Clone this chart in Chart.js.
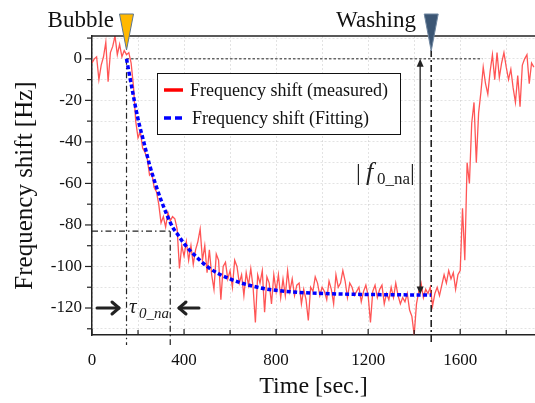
<!DOCTYPE html>
<html>
<head>
<meta charset="utf-8">
<script src="https://cdn.jsdelivr.net/npm/chart.js@4.4.0/dist/chart.umd.min.js"></script>
<style>
  body { margin: 0; background: #fff; }
  canvas { display: block; }
</style>
</head>
<body>
<canvas id="chart" width="535" height="403"></canvas>
<script>
// measured frequency shift, sampled every 10 s
const times = [
  0, 10, 20, 30, 40, 50, 60, 70, 80, 90,
  100, 110, 120, 130, 140, 150, 160, 170, 180, 190,
  200, 210, 220, 230, 240, 250, 260, 270, 280, 290,
  300, 310, 320, 330, 340, 350, 360, 370, 380, 390,
  400, 410, 420, 430, 440, 450, 460, 470, 480, 490,
  500, 510, 520, 530, 540, 550, 560, 570, 580, 590,
  600, 610, 620, 630, 640, 650, 660, 670, 680, 690,
  700, 710, 720, 730, 740, 750, 760, 770, 780, 790,
  800, 810, 820, 830, 840, 850, 860, 870, 880, 890,
  900, 910, 920, 930, 940, 950, 960, 970, 980, 990,
  1000, 1010, 1020, 1030, 1040, 1050, 1060, 1070, 1080, 1090,
  1100, 1110, 1120, 1130, 1140, 1150, 1160, 1170, 1180, 1190,
  1200, 1210, 1220, 1230, 1240, 1250, 1260, 1270, 1280, 1290,
  1300, 1310, 1320, 1330, 1340, 1350, 1360, 1370, 1380, 1390,
  1400, 1410, 1420, 1430, 1440, 1450, 1460, 1470, 1480, 1490,
  1500, 1510, 1520, 1530, 1540, 1550, 1560, 1570, 1580, 1590,
  1600, 1610, 1620, 1630, 1640, 1650, 1660, 1670, 1680, 1690,
  1700, 1710, 1720, 1730, 1740, 1750, 1760, 1770, 1780, 1790,
  1800, 1810, 1820, 1830, 1840, 1850, 1860, 1870, 1880, 1890,
  1900, 1910, 1920
];
const measured = [
  -2, 0, 1, -10, -3, 1, 8, -11, 3, 6,
  11, 2, 7, 1, 4, 2, 3, -2, -13, -30,
  -38, -35, -43, -45, -48, -56, -55, -62, -64, -70,
  -79, -76, -81, -74, -78, -76, -77, -82, -101, -90,
  -95, -88, -97, -90, -99, -92, -88, -82, -97, -90,
  -103, -92, -104, -111, -94, -97, -116, -100, -98, -106,
  -102, -110, -97, -100, -108, -104, -114, -103, -109, -101,
  -110, -127, -104, -108, -102, -122, -105, -108, -118, -104,
  -112, -104, -115, -106, -114, -102, -112, -106, -114, -109,
  -108, -118, -111, -116, -126, -110, -112, -105, -108, -114,
  -110, -112, -116, -107, -111, -118, -104, -110, -108, -102,
  -107, -115, -108, -110, -114, -112, -110, -117, -112, -109,
  -114, -127, -112, -109, -115, -111, -109, -118, -113, -116,
  -110, -115, -108, -114, -118, -115, -117, -113, -121, -124,
  -133, -118, -112, -108, -115, -111, -113, -110, -119, -113,
  -110, -114, -109, -104, -108, -102, -106, -103, -111, -104,
  -102, -72, -97, -50, -60, -31, -21, -50, -26, -16,
  -4, -12, -17, -6, 2, -10, 3, -9, -2, 3,
  -4, -10, -5, -14, -21, -8, -23, -3, 0, 2,
  -12, -2, -4
];

// fitted curve
const fitTimes = [150, 175, 200, 225, 250, 275, 300, 325, 350, 375, 400, 450, 500,
  550, 600, 650, 700, 750, 800, 900, 1000, 1100, 1200, 1300, 1400, 1474];
const fitValues = [0, -15, -29, -40, -51, -60, -68, -75, -81, -85, -89, -95, -100,
  -103.5, -106, -108, -109.5, -110.7, -111.5, -112.5, -113, -113.3, -113.5, -113.6, -113.7, -113.7];

// markers
const bubbleTime = 150;
const washTime = 1474;
const tauEnd = 340;
const tauLevel = -83;
const f0Level = -113.5;
const f0ArrowTime = 1426;
const zeroLineEnd = 1696;

const serif = "'Liberation Serif', 'Times New Roman', serif";

function line(ctx, x1, y1, x2, y2) {
  ctx.beginPath();
  ctx.moveTo(x1, y1);
  ctx.lineTo(x2, y2);
  ctx.stroke();
}

function triangle(ctx, cx, top, tip, half, fill, stroke) {
  ctx.beginPath();
  ctx.moveTo(cx - half, top);
  ctx.lineTo(cx + half, top);
  ctx.lineTo(cx, tip);
  ctx.closePath();
  ctx.fillStyle = fill;
  ctx.fill();
  ctx.lineWidth = 1;
  ctx.strokeStyle = stroke;
  ctx.stroke();
}

function bigArrow(ctx, x1, x2, yy) {
  // thick arrow from x1 pointing to x2
  const dir = x2 > x1 ? 1 : -1;
  ctx.save();
  ctx.strokeStyle = '#222';
  ctx.lineWidth = 3;
  ctx.lineCap = 'round';
  ctx.lineJoin = 'round';
  line(ctx, x1, yy, x2, yy);
  ctx.beginPath();
  ctx.moveTo(x2 - dir * 7, yy - 6);
  ctx.lineTo(x2, yy);
  ctx.lineTo(x2 - dir * 7, yy + 6);
  ctx.stroke();
  ctx.restore();
}

const annotations = {
  id: 'annotations',
  beforeDatasetsDraw(chart) {
    const { ctx, chartArea: a, scales: { x, y } } = chart;
    ctx.save();
    ctx.strokeStyle = '#222';
    ctx.lineWidth = 1;
    // dotted zero line
    ctx.setLineDash([2.5, 2]);
    line(ctx, x.getPixelForValue(bubbleTime), y.getPixelForValue(0),
      x.getPixelForValue(zeroLineEnd), y.getPixelForValue(0));
    // dash-dot guides
    ctx.setLineDash([6, 3, 1.5, 3]);
    ctx.lineWidth = 1.2;
    line(ctx, x.getPixelForValue(bubbleTime), y.getPixelForValue(0), x.getPixelForValue(bubbleTime), a.bottom + 10);
    line(ctx, x.getPixelForValue(tauEnd), y.getPixelForValue(tauLevel), x.getPixelForValue(tauEnd), a.bottom + 10);
    line(ctx, a.left, y.getPixelForValue(tauLevel), x.getPixelForValue(tauEnd), y.getPixelForValue(tauLevel));
    ctx.setLineDash([7, 3, 2, 3]);
    ctx.lineWidth = 1.6;
    line(ctx, x.getPixelForValue(washTime), 50, x.getPixelForValue(washTime), a.bottom + 10);
    ctx.restore();
  },
  afterDatasetsDraw(chart) {
    const { ctx, chartArea: a, scales: { x, y } } = chart;
    ctx.save();
    ctx.setLineDash([]);
    ctx.strokeStyle = '#222';

    // top frame line
    ctx.lineWidth = 1.5;
    line(ctx, a.left, a.top, a.right, a.top);

    // ticks: x inside, y outside
    ctx.lineWidth = 1.2;
    x.ticks.forEach(t => {
      const px = x.getPixelForValue(t.value);
      line(ctx, px, a.bottom, px, a.bottom - (t.value % 400 === 0 ? 6 : 5));
    });
    y.ticks.forEach(t => {
      const py = y.getPixelForValue(t.value);
      line(ctx, a.left - (t.value % 20 === 0 ? 7 : 5), py, a.left, py);
    });

    // |f0_na| arrow
    const ax = x.getPixelForValue(f0ArrowTime);
    const ay1 = y.getPixelForValue(0);
    const ay2 = y.getPixelForValue(f0Level);
    ctx.lineWidth = 1.3;
    line(ctx, ax, ay1 + 3, ax, ay2 - 3);
    ctx.fillStyle = '#222';
    ctx.beginPath();
    ctx.moveTo(ax, ay1); ctx.lineTo(ax - 3.5, ay1 + 8); ctx.lineTo(ax + 3.5, ay1 + 8); ctx.closePath(); ctx.fill();
    ctx.beginPath();
    ctx.moveTo(ax, ay2); ctx.lineTo(ax - 3.5, ay2 - 8); ctx.lineTo(ax + 3.5, ay2 - 8); ctx.closePath(); ctx.fill();

    ctx.fillStyle = '#222';
    ctx.textBaseline = 'alphabetic';
    ctx.textAlign = 'left';
    ctx.font = '24px ' + serif;
    ctx.fillText('|', 356, 180);
    ctx.fillText('|', 410, 180);
    ctx.font = 'italic 26px ' + serif;
    ctx.fillText('f', 366, 180);
    ctx.font = '17px ' + serif;
    ctx.fillText('0_na', 377, 184);

    // tau arrows and label
    bigArrow(ctx, 97, 119, y.getPixelForValue(-120));
    bigArrow(ctx, 199, 179, y.getPixelForValue(-120));
    ctx.fillStyle = '#222';
    ctx.font = 'italic 21px ' + serif;
    ctx.fillText('\u03C4', 129, 313);
    ctx.font = 'italic 15px ' + serif;
    ctx.fillText('0_na', 139, 318);

    // event markers
    triangle(ctx, x.getPixelForValue(bubbleTime), 14, 50, 7, '#ffb800', '#5b7590');
    triangle(ctx, x.getPixelForValue(washTime), 14, 51, 7, '#3c5674', '#6f86a0');
    ctx.fillStyle = '#111';
    ctx.font = '23px ' + serif;
    ctx.textAlign = 'right';
    ctx.fillText('Bubble', 114, 27);
    ctx.fillText('Washing', 416, 27);

    // legend
    ctx.textAlign = 'left';
    ctx.fillStyle = '#fff';
    ctx.fillRect(157, 73, 243, 61);
    ctx.strokeStyle = '#111';
    ctx.lineWidth = 1;
    ctx.strokeRect(157.5, 73.5, 243, 61);
    ctx.strokeStyle = '#ff0000';
    ctx.lineWidth = 3.5;
    line(ctx, 164, 90, 183, 90);
    ctx.strokeStyle = '#0000ff';
    ctx.setLineDash([7, 4]);
    line(ctx, 164, 118, 186, 118);
    ctx.setLineDash([]);
    ctx.fillStyle = '#111';
    ctx.font = '18px ' + serif;
    ctx.textBaseline = 'middle';
    ctx.fillText('Frequency shift (measured)', 190, 91);
    ctx.fillText('Frequency shift (Fitting)', 192, 119);
    ctx.restore();
  }
};

const measuredPoints = times.map((t, i) => ({ x: t, y: measured[i] }));
const fitPoints = fitTimes.map((t, i) => ({ x: t, y: fitValues[i] }));

new Chart(document.getElementById('chart'), {
  type: 'line',
  data: {
    datasets: [
      {
        label: 'Frequency shift (Fitting)',
        data: fitPoints,
        borderColor: '#0000ff',
        borderWidth: 3.5,
        borderDash: [4, 2.5],
        pointRadius: 0,
        cubicInterpolationMode: 'monotone',
        order: 0
      },
      {
        label: 'Frequency shift (measured)',
        data: measuredPoints,
        borderColor: 'rgba(255, 55, 55, 0.85)',
        borderWidth: 1.3,
        pointRadius: 0,
        tension: 0,
        order: 1
      }
    ]
  },
  options: {
    responsive: false,
    animation: false,
    layout: { padding: { top: 36, left: 0, right: 0, bottom: 0 } },
    plugins: {
      legend: { display: false },
      tooltip: { enabled: false }
    },
    scales: {
      x: {
        type: 'linear',
        min: 0,
        max: 1925,
        ticks: {
          stepSize: 200,
          includeBounds: false,
          autoSkip: false,
          maxRotation: 0,
          padding: 15,
          color: '#111',
          font: { family: serif, size: 17 },
          callback: v => (v % 400 === 0 ? v : '')
        },
        grid: { color: 'rgba(0,0,0,0.11)', drawTicks: false },
        border: { color: '#222', width: 1.5, dash: [2, 2] },
        title: {
          display: true,
          text: 'Time [sec.]',
          color: '#111',
          font: { family: serif, size: 24 },
          padding: { top: 0, bottom: 2 }
        },
        afterFit: s => { s.height = 68; }
      },
      y: {
        min: -133,
        max: 11,
        ticks: {
          stepSize: 10,
          includeBounds: false,
          autoSkip: false,
          padding: 10,
          color: '#111',
          font: { family: serif, size: 17 },
          callback: v => (v % 20 === 0 ? v : '')
        },
        grid: { color: 'rgba(0,0,0,0.11)', drawTicks: false },
        border: { color: '#222', width: 1.5, dash: [2, 2] },
        title: {
          display: true,
          text: 'Frequency shift [Hz]',
          color: '#111',
          font: { family: serif, size: 25 },
          padding: { top: 10, bottom: 0 }
        },
        afterFit: s => { s.width = 92; }
      }
    }
  },
  plugins: [annotations]
});
</script>
</body>
</html>
